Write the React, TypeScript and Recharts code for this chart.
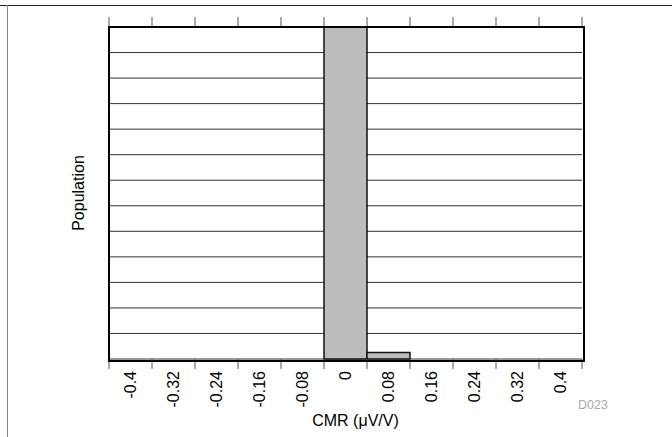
import React from 'react';
import { BarChart, Bar, XAxis, YAxis, CartesianGrid } from 'recharts';

// Histogram of CMR (µV/V), bins on a 0.08 step
const CMR_BINS = ['-0.4', '-0.32', '-0.24', '-0.16', '-0.08', '0', '0.08', '0.16', '0.24', '0.32', '0.4'];
const POPULATION = [0, 0, 0, 0, 0, 13, 0.25, 0, 0, 0, 0];
const POP_TICKS = [0, 1, 2, 3, 4, 5, 6, 7, 8, 9, 10, 11, 12, 13];

const W = 672;
const H = 437;
const M = { top: 16, right: 90, bottom: 0, left: 0 };
const Y_AXIS_W = 109;
const TOP_AXIS_H = 11;
const BOTTOM_AXIS_H = 78;
const PLOT_L = M.left + Y_AXIS_W;
const PLOT_T = M.top + TOP_AXIS_H;
const PLOT_W = W - M.right - PLOT_L;
const PLOT_H = H - M.bottom - BOTTOM_AXIS_H - PLOT_T;
const BAND = PLOT_W / CMR_BINS.length;
const TICK_LEN = 10;

const FONT = '"Liberation Sans", Arial, Helvetica, sans-serif';

const data = CMR_BINS.map((bin, i) => ({ bin, count: POPULATION[i] }));

function BottomTick(props: any) {
  const { x, y, payload, index } = props;
  const axisY = y - TICK_LEN - 2;
  const last = index === CMR_BINS.length - 1;
  return (
    <g>
      <line x1={x - BAND / 2} x2={x - BAND / 2} y1={axisY} y2={axisY + TICK_LEN} stroke="#555" />
      {last && <line x1={x + BAND / 2} x2={x + BAND / 2} y1={axisY} y2={axisY + TICK_LEN} stroke="#555" />}
      <text
        x={x}
        y={y}
        dy="0.35em"
        transform={`rotate(-90, ${x}, ${y})`}
        textAnchor="end"
        fontSize={16}
        fontFamily={FONT}
        fill="#000"
      >
        {payload.value}
      </text>
    </g>
  );
}

function TopTick(props: any) {
  const { x, y, index } = props;
  const axisY = y + TICK_LEN;
  const last = index === CMR_BINS.length - 1;
  return (
    <g>
      <line x1={x - BAND / 2} x2={x - BAND / 2} y1={axisY - TICK_LEN} y2={axisY} stroke="#555" />
      {last && <line x1={x + BAND / 2} x2={x + BAND / 2} y1={axisY - TICK_LEN} y2={axisY} stroke="#555" />}
    </g>
  );
}

export default function App() {
  return (
    <div style={{ position: 'absolute', left: 0, top: 0, width: W, height: H, background: '#fff', overflow: 'hidden' }}>
      {/* page frame lines */}
      <div style={{ position: 'absolute', left: 0, top: 5, width: W, borderTop: '1px solid #222' }} />
      <div style={{ position: 'absolute', left: 7, top: 5, height: H, borderLeft: '1px solid #888' }} />

      <div style={{ position: 'absolute', left: 0, top: 0 }}>
        <BarChart width={W} height={H} data={data} margin={M} barCategoryGap={0}>
          <CartesianGrid horizontal vertical={false} stroke="#333" strokeWidth={1} />
          <XAxis
            dataKey="bin"
            type="category"
            height={BOTTOM_AXIS_H}
            interval={0}
            axisLine={false}
            tickLine={false}
            tickSize={TICK_LEN}
            tickMargin={2}
            tick={(p: any) => <BottomTick {...p} />}
            label={() => (
              <text x={PLOT_L + PLOT_W / 2 + 10} y={426} textAnchor="middle" fontSize={16} fontFamily={FONT} fill="#000">
                CMR (μV/V)
              </text>
            )}
          />
          <XAxis
            xAxisId="top"
            dataKey="bin"
            type="category"
            orientation="top"
            height={TOP_AXIS_H}
            interval={0}
            axisLine={false}
            tickLine={false}
            tickSize={TICK_LEN}
            tickMargin={0}
            tick={(p: any) => <TopTick {...p} />}
          />
          <YAxis
            type="number"
            domain={[0, 13]}
            ticks={POP_TICKS}
            interval={0}
            width={Y_AXIS_W}
            tick={() => <g />}
            tickLine={false}
            axisLine={false}
            label={() => {
              const cx = 78;
              const cy = PLOT_T + PLOT_H / 2;
              return (
                <text
                  x={cx}
                  y={cy}
                  dy="0.35em"
                  transform={`rotate(-90, ${cx}, ${cy})`}
                  textAnchor="middle"
                  fontSize={16}
                  fontFamily={FONT}
                  fill="#000"
                >
                  Population
                </text>
              );
            }}
          />
          <Bar dataKey="count" fill="#bcbcbc" stroke="#111" strokeWidth={1.5} isAnimationActive={false} />
        </BarChart>
      </div>

      {/* plot frame */}
      <div
        style={{
          position: 'absolute',
          left: PLOT_L - 1,
          top: PLOT_T - 1,
          width: PLOT_W,
          height: PLOT_H,
          border: '2px solid #000',
          pointerEvents: 'none',
        }}
      />

      <span
        style={{
          position: 'absolute',
          left: 578,
          top: 399,
          fontSize: 12.5,
          fontFamily: FONT,
          color: '#aaa',
          lineHeight: 1,
        }}
      >
        D023
      </span>
    </div>
  );
}
